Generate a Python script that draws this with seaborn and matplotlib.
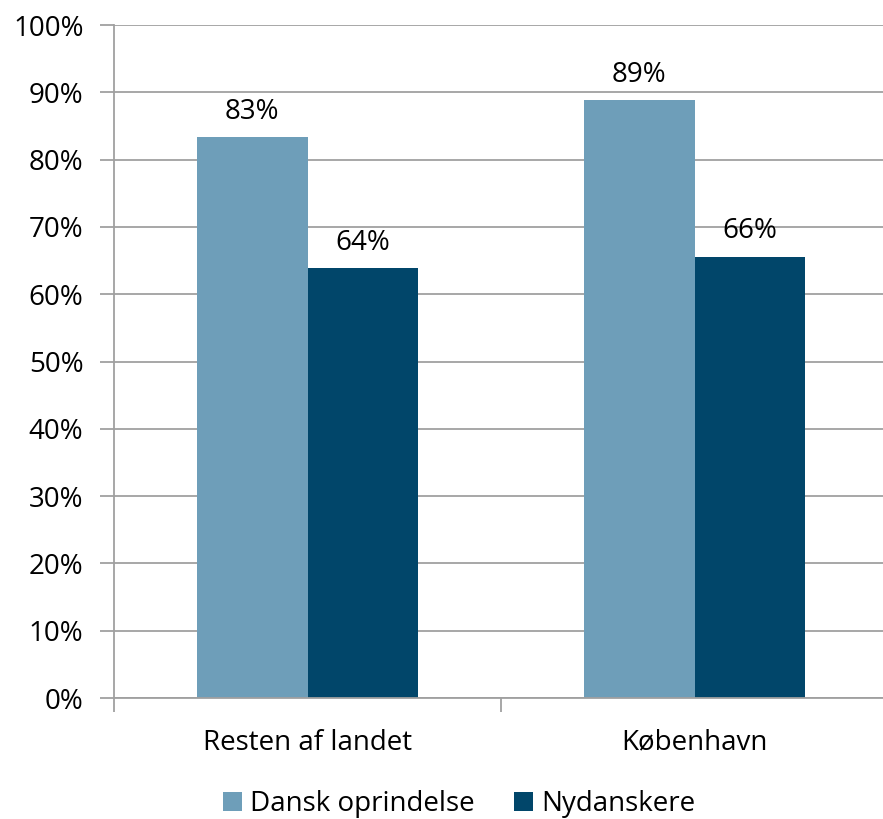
import numpy as np
import pandas as pd
import matplotlib
matplotlib.use("Agg")
import matplotlib.pyplot as plt
import seaborn as sns
from matplotlib.ticker import FixedLocator, PercentFormatter

# Data
regions = ["Resten af landet", "København"]
groups = ["Dansk oprindelse", "Nydanskere"]
dansk = [83.4, 88.8]
nydanskere = [63.9, 65.6]
colors = ["#6E9EB9", "#01466A"]

df = pd.DataFrame({
    "region": regions * 2,
    "gruppe": [groups[0]] * 2 + [groups[1]] * 2,
    "andel": dansk + nydanskere,
})

sns.set_style("white")
plt.rcParams["font.family"] = ["Open Sans", "DejaVu Sans"]
plt.rcParams["text.color"] = "black"
plt.rcParams["xtick.color"] = "black"
plt.rcParams["ytick.color"] = "black"

fs = 20

fig = plt.figure(figsize=(8.83, 8.19), dpi=100)
ax = fig.add_axes([0.1291, 0.1477, 0.8766, 0.8217])

sns.barplot(
    data=df, x="region", y="andel", hue="gruppe",
    palette=colors, width=0.57, gap=0, saturation=1,
    linewidth=0, ax=ax, legend=True,
)

# Value labels above bars
for cont in ax.containers:
    ax.bar_label(cont, labels=[f"{v:.0f}%" for v in cont.datavalues],
                 padding=8, fontsize=fs, color="black")

ax.set_ylim(0, 100)
ax.set_xlim(-0.5, 1.5)
ax.set_yticks(np.arange(0, 101, 10))
ax.yaxis.set_major_formatter(PercentFormatter(100, decimals=0))
ax.yaxis.grid(True, color="#A0A0A0", linewidth=1.3)
ax.set_axisbelow(True)
ax.set_xlabel("")
ax.set_ylabel("")

for side in ["top", "right"]:
    ax.spines[side].set_visible(False)
for side in ["left", "bottom"]:
    ax.spines[side].set_color("#A0A0A0")
    ax.spines[side].set_linewidth(1.3)

ax.tick_params(axis="y", which="major", length=10, width=1.3, color="#A0A0A0",
               labelcolor="black", labelsize=fs, pad=12, left=True)
ax.tick_params(axis="x", which="major", length=0, labelsize=fs, pad=22,
               labelcolor="black")
ax.xaxis.set_minor_locator(FixedLocator([-0.5, 0.5, 1.5]))
ax.tick_params(axis="x", which="minor", length=10, width=1.3, color="#A0A0A0",
               bottom=True)

handles, labels = ax.get_legend_handles_labels()
ax.get_legend().remove()
fig.legend(handles, labels, loc="center", bbox_to_anchor=(0.52, 0.018),
           ncol=2, frameon=False, fontsize=fs, handlelength=0.7,
           handleheight=0.7, handletextpad=0.3, columnspacing=1.4)

fig.savefig("out.png", dpi=100)
